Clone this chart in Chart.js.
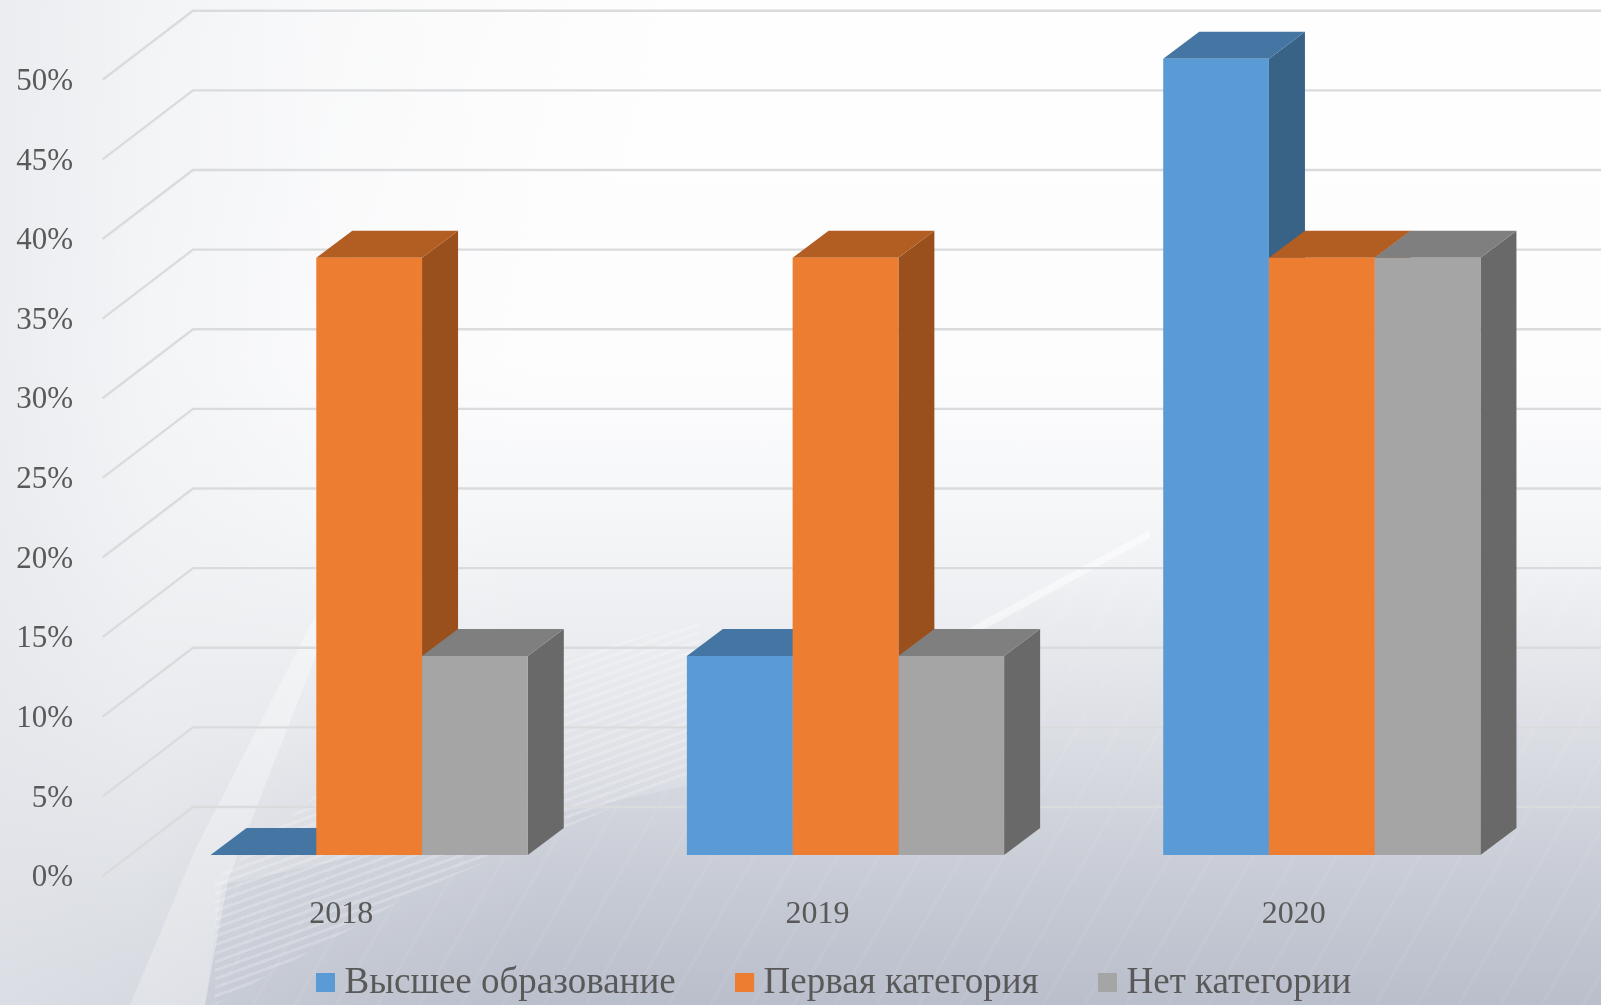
<!DOCTYPE html>
<html lang="ru">
<head>
<meta charset="utf-8">
<title>Chart</title>
<script src="https://cdn.jsdelivr.net/npm/chart.js@4"></script>
<style>
  html, body { margin: 0; padding: 0; width: 1601px; height: 1005px; overflow: hidden; }
  body { position: relative; background: linear-gradient(180deg, #fefefe 0%, #fdfdfe 36%, #f6f7f9 50%, #eceef1 62%, #e3e5ea 72%, #d5d8df 82%, #c7cbd4 91%, #b9becb 100%); }
  .bg { position: absolute; left: 0; top: 0; width: 1601px; height: 1005px; }
  #bgLeft { background: linear-gradient(90deg, rgba(230,232,237,.7) 0%, rgba(240,242,244,.5) 9%, rgba(250,250,251,.2) 20%, rgba(255,255,255,0) 34%); }
  #bgBand { background: linear-gradient(115deg, rgba(232,234,238,.4) 0%, rgba(255,255,255,0) 34%); }
  #bgFloor { background: linear-gradient(180deg, rgba(190,195,207,0) 56%, rgba(190,195,207,.3) 85%, rgba(186,191,204,.35) 100%); clip-path: polygon(205px 1005px, 222px 885px, 690px 785px, 1150px 535px, 1601px 535px, 1601px 1005px); }
  #bgStripes { background: repeating-linear-gradient(160deg, rgba(255,255,255,.2) 0 3px, rgba(255,255,255,0) 3px 8px); clip-path: polygon(215px 880px, 440px 690px, 700px 620px, 700px 770px, 420px 890px, 215px 1005px); }
  #bgRays { background: repeating-linear-gradient(120deg, rgba(255,255,255,.05) 0 3px, rgba(255,255,255,0) 3px 36px); clip-path: polygon(222px 885px, 690px 785px, 1150px 535px, 1601px 535px, 1601px 1005px, 205px 1005px); }
  #bgSwoosh { background: linear-gradient(100deg, rgba(255,255,255,0), rgba(255,255,255,.7) 50%, rgba(255,255,255,0)); clip-path: polygon(130px 1005px, 195px 850px, 318px 610px, 330px 620px, 228px 880px, 205px 1005px); }
  #bgStreak { background: linear-gradient(90deg, rgba(255,255,255,0) 40%, rgba(255,255,255,.45) 60%, rgba(255,255,255,.55) 72%); clip-path: polygon(690px 780px, 1150px 530px, 1150px 538px, 700px 786px); }
  canvas { position: absolute; left: 0; top: 0; }
</style>
</head>
<body>
<div class="bg" id="bgLeft"></div>
<div class="bg" id="bgBand"></div>
<div class="bg" id="bgFloor"></div>
<div class="bg" id="bgRays"></div>
<div class="bg" id="bgStripes"></div>
<div class="bg" id="bgSwoosh"></div>
<div class="bg" id="bgStreak"></div>
<canvas id="chart" width="1601" height="1005"></canvas>
<script>
// Данные диаграммы
const years = ["2018", "2019", "2020"];
const seriesNames = ["Высшее образование", "Первая категория", "Нет категории"];
const higherEducation = [0, 12.5, 50];
const firstCategory = [37.5, 37.5, 37.5];
const noCategory = [12.5, 12.5, 37.5];

const frontColors = ["#5b9bd5", "#ed7d31", "#a5a5a5"];
const topColors = ["#4575a2", "#b25d22", "#7f7f7f"];
const sideColors = ["#386386", "#9a501c", "#696969"];

const serif = "'Liberation Serif', 'Times New Roman', serif";
const textColor = "#595959";

// Смещения псевдо-3D относительно плоскости столбцов
const barDepth = { dx: 36, dy: -27 };
const wallFront = { dx: -28.4, dy: 21 };
const wallBack = { dx: 62, dy: -48 };
const legendGap = 59.5;
const markerSize = 19;

function fillPoly(ctx, color, pts) {
  ctx.fillStyle = color;
  ctx.beginPath();
  pts.forEach((p, i) => (i ? ctx.lineTo(p[0], p[1]) : ctx.moveTo(p[0], p[1])));
  ctx.closePath();
  ctx.fill();
}

// Сетка на стенке и боковые диагонали
const wallPlugin = {
  id: "wall",
  beforeDatasetsDraw(chart) {
    const { ctx, scales, width, chartArea } = chart;
    ctx.save();
    ctx.strokeStyle = "#dadbdd";
    ctx.lineWidth = 2.4;
    scales.y.ticks.forEach((tick) => {
      const y = scales.y.getPixelForValue(tick.value);
      ctx.beginPath();
      ctx.moveTo(chartArea.left + wallFront.dx, y + wallFront.dy);
      ctx.lineTo(chartArea.left + wallBack.dx, y + wallBack.dy);
      ctx.lineTo(width, y + wallBack.dy);
      ctx.stroke();
    });
    ctx.restore();
  },
};

// Верхние и боковые грани столбцов
const facesPlugin = {
  id: "faces",
  beforeDatasetsDraw(chart) {
    const { ctx } = chart;
    const dx = barDepth.dx;
    const dy = barDepth.dy;
    ctx.save();
    chart.data.datasets.forEach((ds, d) => {
      chart.getDatasetMeta(d).data.forEach((bar) => {
        const left = bar.x - bar.width / 2;
        const right = bar.x + bar.width / 2;
        fillPoly(ctx, sideColors[d], [
          [right, bar.y],
          [right + dx, bar.y + dy],
          [right + dx, bar.base + dy],
          [right, bar.base],
        ]);
        fillPoly(ctx, topColors[d], [
          [left, bar.y],
          [left + dx, bar.y + dy],
          [right + dx, bar.y + dy],
          [right, bar.y],
        ]);
      });
    });
    ctx.restore();
  },
};

// Легенда: высота в раскладке, положение на холсте и полные квадратные маркеры
const legendPlugin = {
  id: "legendPlace",
  beforeLayout(chart) {
    const legend = chart.legend;
    const fit = legend.fit;
    legend.fit = function () {
      fit.call(this);
      this.height = 40;
    };
  },
  afterLayout(chart) {
    const legend = chart.legend;
    legend.left = 316 - legendGap;
    legend.top = 965 - legendGap;
  },
  afterDraw(chart) {
    const { ctx, legend } = chart;
    legend.legendHitBoxes.forEach((box, i) => {
      ctx.fillStyle = frontColors[i];
      ctx.fillRect(box.left, box.top + (box.height - markerSize) / 2 - 1, markerSize, markerSize);
    });
  },
};

new Chart(document.getElementById("chart"), {
  type: "bar",
  data: {
    labels: years,
    datasets: [higherEducation, firstCategory, noCategory].map((values, i) => ({
      label: seriesNames[i],
      data: values,
      backgroundColor: frontColors[i],
      borderWidth: 0,
      barPercentage: 1,
      categoryPercentage: 0.666,
    })),
  },
  options: {
    responsive: false,
    animation: false,
    layout: { padding: { top: 11, right: 41, bottom: 0, left: 0 } },
    plugins: {
      tooltip: { enabled: false },
      legend: {
        position: "bottom",
        align: "start",
        labels: {
          boxWidth: 10,
          boxHeight: 17,
          padding: legendGap,
          color: textColor,
          font: { family: serif, size: 37 },
        },
      },
    },
    scales: {
      x: {
        border: { display: false },
        grid: { display: false, drawTicks: false },
        ticks: {
          color: textColor,
          font: { family: serif, size: 32 },
          padding: 40,
          labelOffset: -28,
          maxRotation: 0,
          autoSkip: false,
        },
        afterFit(scale) {
          scale.paddingLeft = 0;
          scale.paddingRight = 0;
          scale.height = 110;
        },
      },
      y: {
        min: 0,
        max: 53,
        border: { display: false },
        grid: { display: false, drawTicks: false },
        ticks: {
          stepSize: 5,
          includeBounds: false,
          padding: 58,
          labelOffset: 23,
          color: textColor,
          font: { family: serif, size: 31 },
          callback: (value) => value + "%",
        },
        afterFit(scale) {
          scale.paddingTop = 0;
          scale.paddingBottom = 0;
          scale.width = 131;
        },
      },
    },
  },
  plugins: [wallPlugin, facesPlugin, legendPlugin],
});
</script>
</body>
</html>
